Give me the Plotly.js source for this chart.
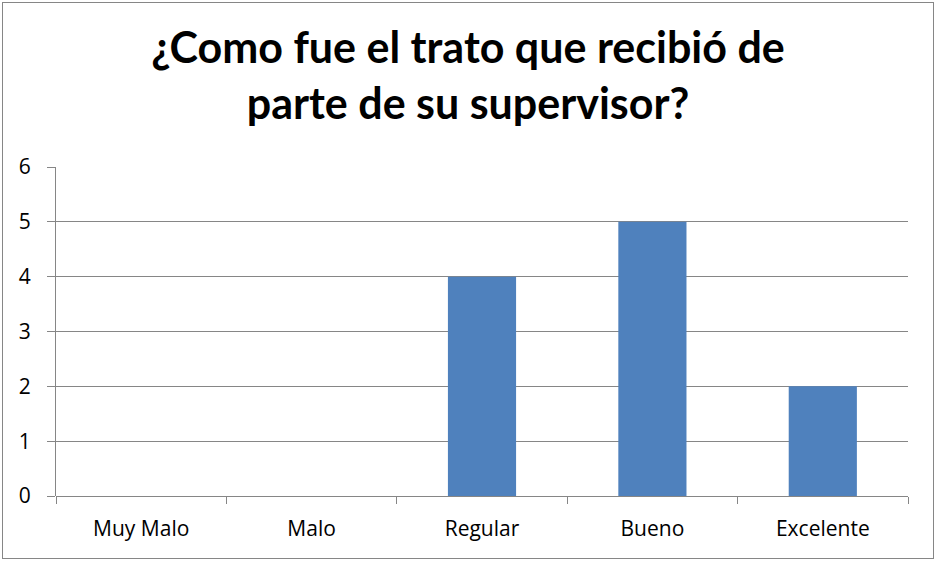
<!DOCTYPE html>
<html>
<head>
<meta charset="utf-8">
<script src="https://cdn.plot.ly/plotly-3.0.1.min.js"></script>
<style>
html,body{margin:0;padding:0;background:#fff;}
#wrap{position:relative;width:936px;height:562px;}
#chart{width:936px;height:562px;}
#frame{position:absolute;left:2px;top:2px;width:930px;height:555px;border:1px solid #868686;pointer-events:none;}
</style>
</head>
<body>
<div id="wrap"><div id="chart"></div><div id="frame"></div></div>
<script>
const categories = ["Muy Malo", "Malo", "Regular", "Bueno", "Excelente"];
const values = [0, 0, 4, 5, 2];
const yTicks = [0, 1, 2, 3, 4, 5, 6];
const titleText = "¿Como fue el trato que recibió de<br>parte de su supervisor?";

const trace = {
  type: "bar",
  x: categories,
  y: values,
  marker: {color: "#4f81bd"},
  hoverinfo: "none"
};

const layout = {
  width: 936,
  height: 562,
  margin: {l: 56, r: 28, t: 167, b: 66, pad: 0},
  paper_bgcolor: "#ffffff",
  plot_bgcolor: "#ffffff",
  showlegend: false,
  bargap: 0.6,
  font: {family: "'Open Sans', sans-serif", color: "#000000", size: 20},
  title: {
    text: titleText,
    font: {family: "Lato, 'Open Sans', sans-serif", size: 43, color: "#000000", weight: "bold"},
    x: 0.5, xref: "container", xanchor: "center",
    y: 1 - 63/562, yref: "container", yanchor: "top"
  },
  xaxis: {
    type: "category",
    showgrid: false,
    showline: false,
    ticks: "outside",
    ticklen: 7,
    tickcolor: "#868686",
    tickson: "boundaries",
    tickfont: {size: 21},
    ticklabelstandoff: 18,
    zeroline: false,
    fixedrange: true
  },
  yaxis: {
    range: [0, 6],
    tickvals: yTicks,
    ticktext: yTicks.map(String),
    showgrid: true,
    gridcolor: "#868686",
    gridwidth: 1,
    showline: true,
    linecolor: "#868686",
    linewidth: 1,
    ticks: "outside",
    ticklen: 8,
    tickcolor: "#868686",
    ticklabelstandoff: 12,
    zeroline: true,
    zerolinecolor: "#868686",
    zerolinewidth: 1,
    tickfont: {size: 21},
    fixedrange: true
  }
};

Plotly.newPlot("chart", [trace], layout, {displayModeBar: false, staticPlot: true});
</script>
</body>
</html>
